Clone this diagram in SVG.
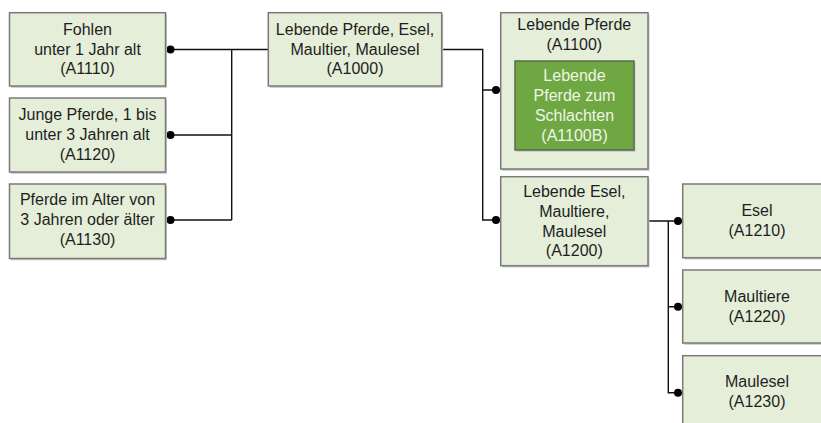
<svg xmlns="http://www.w3.org/2000/svg" width="821" height="423" viewBox="0 0 821 423">
<defs>
<style>
.box{fill:#e5eed8;stroke:#7a7a7a;stroke-width:1.5}
.shadow{fill:#c8c8c8}
.inner{fill:#6fa843;stroke:#5a6a50;stroke-width:1.5}
text{font-family:"Liberation Sans",Arial,sans-serif;font-size:16px;fill:#1e1e1e;text-anchor:middle}
.lt{fill:#eef5e6}
.conn{fill:none;stroke:#111;stroke-width:1.4}
.dot{fill:#000}
</style>
</defs>
<rect width="821" height="423" fill="#ffffff"/>
<g id="connectors">
<path class="conn" d="M170,49.5 H268.3 M231.7,49.5 V220 M170,135 H231.7 M170,220 H231.7"/>
<path class="conn" d="M441.7,49.5 H482.7 V220 H500 M482.7,90 H500"/>
<path class="conn" d="M648,221 H668.3 V392.7 H682 M668.3,306.7 H682 M668.3,221 H682"/>
<circle class="dot" cx="170.5" cy="49.5" r="4"/>
<circle class="dot" cx="170.5" cy="135" r="4"/>
<circle class="dot" cx="170.5" cy="220" r="4"/>
<circle class="dot" cx="496" cy="90" r="4"/>
<circle class="dot" cx="496" cy="220" r="4"/>
<circle class="dot" cx="678" cy="221" r="4"/>
<circle class="dot" cx="678" cy="306.7" r="4"/>
<circle class="dot" cx="678" cy="392.7" r="4"/>
</g>
<g id="A1110">
<rect class="shadow" x="11" y="14.5" width="156" height="73.3"/>
<rect class="box" x="9.5" y="12.7" width="156" height="73.3"/>
<text x="87.5" y="34.5">Fohlen</text>
<text x="87.5" y="54.5">unter 1 Jahr alt</text>
<text x="87.5" y="74">(A1110)</text>
</g>
<g id="A1120">
<rect class="shadow" x="11" y="99.8" width="156" height="74"/>
<rect class="box" x="9.5" y="98" width="156" height="74"/>
<text x="87.5" y="120">Junge Pferde, 1 bis</text>
<text x="87.5" y="140">unter 3 Jahren alt</text>
<text x="87.5" y="159.5">(A1120)</text>
</g>
<g id="A1130">
<rect class="shadow" x="11" y="185.8" width="156" height="74.5"/>
<rect class="box" x="9.5" y="184" width="156" height="74.5"/>
<text x="87.5" y="205">Pferde im Alter von</text>
<text x="87.5" y="225">3 Jahren oder älter</text>
<text x="87.5" y="244.5">(A1130)</text>
</g>
<g id="A1000">
<rect class="shadow" x="269.8" y="14.5" width="173.4" height="73.3"/>
<rect class="box" x="268.3" y="12.7" width="173.4" height="73.3"/>
<text x="355" y="34.5">Lebende Pferde, Esel,</text>
<text x="355" y="54.5">Maultier, Maulesel</text>
<text x="355" y="74">(A1000)</text>
</g>
<g id="A1100">
<rect class="shadow" x="502.2" y="14.5" width="147.3" height="156.3"/>
<rect class="box" x="500.7" y="12.7" width="147.3" height="156.3"/>
<text x="574.3" y="30">Lebende Pferde</text>
<text x="574.3" y="50">(A1100)</text>
</g>
<g id="A1100B">
<rect class="shadow" x="516.5" y="62.8" width="119" height="89"/>
<rect class="inner" x="515" y="61" width="119" height="89"/>
<text class="lt" x="574.5" y="80.5">Lebende</text>
<text class="lt" x="574.5" y="100.5">Pferde zum</text>
<text class="lt" x="574.5" y="120.5">Schlachten</text>
<text class="lt" x="574.5" y="140.5">(A1100B)</text>
</g>
<g id="A1200">
<rect class="shadow" x="502.2" y="178.5" width="147.3" height="89"/>
<rect class="box" x="500.7" y="176.7" width="147.3" height="89"/>
<text x="574.3" y="196.5">Lebende Esel,</text>
<text x="574.3" y="216.5">Maultiere,</text>
<text x="574.3" y="236.5">Maulesel</text>
<text x="574.3" y="256">(A1200)</text>
</g>
<g id="A1210">
<rect class="shadow" x="684.2" y="185.8" width="148" height="73.7"/>
<rect class="box" x="682.7" y="184" width="148" height="73.7"/>
<text x="757" y="215.5">Esel</text>
<text x="757" y="235.5">(A1210)</text>
</g>
<g id="A1220">
<rect class="shadow" x="684.2" y="271.8" width="148" height="73"/>
<rect class="box" x="682.7" y="270" width="148" height="73"/>
<text x="757" y="301.7">Maultiere</text>
<text x="757" y="321.7">(A1220)</text>
</g>
<g id="A1230">
<rect class="shadow" x="684.2" y="357.5" width="148" height="73.5"/>
<rect class="box" x="682.7" y="355.7" width="148" height="73.5"/>
<text x="757" y="387.3">Maulesel</text>
<text x="757" y="407">(A1230)</text>
</g>
</svg>
